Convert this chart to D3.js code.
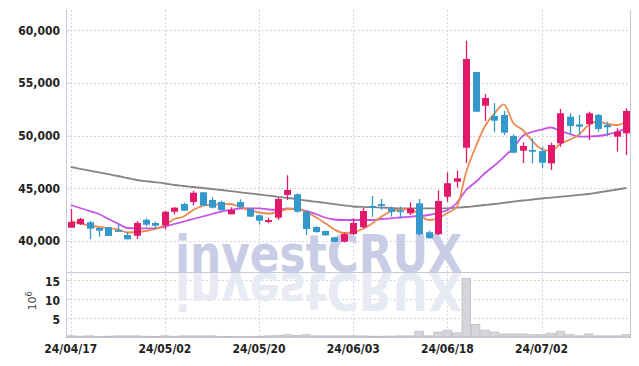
<!DOCTYPE html>
<html><head><meta charset="utf-8">
<script src="https://cdn.jsdelivr.net/npm/d3@7"></script>
<style>body{margin:0;background:#fff}svg{display:block}</style>
</head><body><svg id="c" width="639" height="366"></svg>
<script>
const dates = ["2024-04-17","2024-04-18","2024-04-19","2024-04-22","2024-04-23","2024-04-24","2024-04-25","2024-04-26","2024-04-29","2024-04-30",
"2024-05-02","2024-05-03","2024-05-07","2024-05-08","2024-05-09","2024-05-10","2024-05-13","2024-05-14","2024-05-16","2024-05-17",
"2024-05-20","2024-05-21","2024-05-22","2024-05-23","2024-05-24","2024-05-27","2024-05-28","2024-05-29","2024-05-30","2024-05-31",
"2024-06-03","2024-06-04","2024-06-05","2024-06-07","2024-06-10","2024-06-11","2024-06-12","2024-06-13","2024-06-14","2024-06-17",
"2024-06-18","2024-06-19","2024-06-20","2024-06-21","2024-06-24","2024-06-25","2024-06-26","2024-06-27","2024-06-28","2024-07-01",
"2024-07-02","2024-07-03","2024-07-04","2024-07-05","2024-07-08","2024-07-09","2024-07-10","2024-07-11","2024-07-12","2024-07-15"];
const open  = [41260,41590,41780,41230,41300,41040,40570,40500,42020,41710, 41490,42780,43510,43700,44620,43890,43700,42530,43700,43040,
               42440,41800,42210,44370,44430,42780,41330,40950,40350,39930, 40660,41300,43320,43510,43100,42910,42630,43580,40830,40640,
               44200,45630,48850,56040,52840,51860,51960,49970,48570,48640, 48540,47370,49270,51800,51070,51100,51960,51010,49900,50220];
const high  = [43040,42210,41900,41230,41360,41590,40880,41900,42150,41830, 42850,43230,43640,44770,44650,44150,43830,43200,43960,43130,
               42500,42210,44080,46240,44530,42850,41400,40980,40380,40790, 42150,43150,44270,43990,43260,43260,43670,43990,40980,44810,
               46520,46670,59010,56040,53950,53070,52340,50120,49370,49750, 48950,49330,52530,52120,51960,52270,52050,51320,50700,52590];
const low   = [41260,41520,40190,40410,40470,40880,40160,40190,41400,41140, 41110,42530,42880,43390,43320,43100,42880,42530,43200,42280,
               41550,41680,41990,43890,42690,40570,40790,40510,39900,39860, 40570,41210,42310,42970,42310,42150,42470,40500,40220,40570,
               43730,45060,47400,52270,51390,50320,50060,48320,47400,47370, 46900,46740,48950,50060,50060,49590,50370,49970,48480,48160];
const close = [41800,42090,41170,40980,40470,40880,40160,41710,41550,41450, 42780,43160,42880,44580,43350,43160,42940,42940,43200,42310,
               41930,41990,43990,44840,42780,41140,40850,40540,39930,40660, 41710,42850,43160,43390,42780,42780,43100,40640,40260,43800,
               45480,45950,57270,52270,53570,51420,50280,48380,49020,48480, 47430,49110,52120,50910,50850,52120,50630,50790,50370,52340];
// volume in millions of shares
const volume = [0.3,0.2,0.3,0.15,0.2,0.3,0.3,0.3,0.2,0.15, 0.3,0.2,0.3,0.3,0.3,0.3,0.15,0.15,0.1,0.15,
                0.2,0.3,0.4,0.6,0.4,0.6,0.3,0.3,0.3,0.3, 0.3,0.3,0.2,0.2,0.25,0.3,0.3,1.5,0.3,1.3,
                1.8,1.1,15.4,3.3,1.8,1.3,0.8,0.8,0.8,0.6, 0.6,1.0,1.5,0.6,0.3,0.8,0.3,0.3,0.3,0.6];
const ma5  = [41898,41661,41471,41329,41234,41110,40807,40854,40949,41139, 41518,42088,42325,42942,43322,43464,43483,43511,43227,42942,
              42705,42610,42752,43037,43084,42752,42278,41708,41091,40759, 40854,41139,41661,42325,42800,42989,43037,42515,41993,42135,
              42657,43227,46548,48921,50914,52100,52963,51198,50534,49509, 48731,48541,49234,49604,50107,51008,51341,51103,51008,51293];
const ma20 = [43416,43132,42847,42562,42088,41661,41234,41205,41205,41205, 41376,41613,41851,42088,42325,42562,42800,42942,43084,43103,
              43103,42989,42942,43084,42989,42847,42562,42230,42040,41993, 41993,41993,41993,42088,42154,42230,42297,42373,42467,42657,
              42942,43606,44840,45599,46453,47165,47972,48826,49965,50344, 50581,50771,50439,50154,49898,49917,49965,50107,50344,50695];
const ma60 = [47023,46852,46681,46510,46339,46169,45979,45789,45675,45571, 45457,45314,45220,45125,45030,44935,44840,44735,44622,44517,
              44413,44308,44195,44090,43986,43843,43730,43616,43502,43388, 43274,43236,43208,43170,43141,43103,43103,43103,43103,43103,
              43103,43160,43227,43322,43416,43511,43625,43730,43843,43938, 44033,44119,44204,44289,44375,44460,44603,44745,44887,45030];
const priceTicks = [40000,45000,50000,55000,60000];
const volTicks = [5,10,15];
const dateTicks = ["2024-04-17","2024-05-02","2024-05-20","2024-06-03","2024-06-18","2024-07-02"];

const svg = d3.select("#c");
const L = 66, R = 631, T = 10, PB = 272, VB = 337;
const x = d3.scaleBand().domain(dates).range([L, R]);
const cx = d => x(d) + x.bandwidth() / 2;
const y = d3.scaleLinear().domain([37058, 61922]).range([PB, T]);
const yv = d3.scaleLinear().domain([0, 17.1]).range([VB, PB]);
const gridC = "#c4c4da", axisC = "#c8c8d8";
const font = "'DejaVu Sans Condensed','DejaVu Sans',sans-serif";

// defs
const defs = svg.append("defs");
defs.append("clipPath").attr("id","volclip").append("rect").attr("x",L).attr("y",PB+1).attr("width",R-L).attr("height",VB-PB-1);

// grid
const grid = svg.append("g").attr("stroke", gridC).attr("stroke-dasharray","1.5,2.5").attr("stroke-width",1);
grid.selectAll(".hp").data(priceTicks).join("line")
  .attr("x1",L).attr("x2",R).attr("y1",d=>Math.round(y(d))+0.5).attr("y2",d=>Math.round(y(d))+0.5);
grid.selectAll(".hv").data(volTicks).join("line").attr("class","hv")
  .attr("x1",L).attr("x2",R).attr("y1",d=>Math.round(yv(d))+0.5).attr("y2",d=>Math.round(yv(d))+0.5);
grid.selectAll(".vx").data(dateTicks).join("line").attr("class","vx")
  .attr("x1",d=>Math.round(cx(d))+0.5).attr("x2",d=>Math.round(cx(d))+0.5).attr("y1",T).attr("y2",VB);

// watermark + reflection
const wm = svg.append("g");
wm.append("text").attr("x",175).attr("y",PB).attr("textLength",287).attr("lengthAdjust","spacingAndGlyphs")
  .attr("font-family","'DejaVu Sans',sans-serif").attr("font-weight","bold").attr("font-size",52)
  .attr("fill","#c8cde5").text("investCRUX");
wm.append("g").attr("clip-path","url(#volclip)")
  .append("text").attr("transform",`translate(0,${2*PB+1}) scale(1,-1)`)
  .attr("x",175).attr("y",PB).attr("textLength",287).attr("lengthAdjust","spacingAndGlyphs")
  .attr("font-family","'DejaVu Sans',sans-serif").attr("font-weight","bold").attr("font-size",52)
  .attr("fill","#e8eaf3").text("investCRUX");

// frame
const fr = svg.append("g").attr("stroke",axisC).attr("stroke-width",1);
fr.append("line").attr("x1",L+0.5).attr("x2",L+0.5).attr("y1",T).attr("y2",VB);
fr.append("line").attr("x1",R-0.5).attr("x2",R-0.5).attr("y1",T).attr("y2",VB);
fr.append("line").attr("x1",L).attr("x2",R).attr("y1",PB+0.5).attr("y2",PB+0.5);
fr.append("line").attr("x1",L).attr("x2",R).attr("y1",VB+0.5).attr("y2",VB+0.5);

// y axis (price)
const ya = svg.append("g").attr("transform",`translate(${L},0)`)
  .call(d3.axisLeft(y).tickValues(priceTicks).tickSize(-3).tickPadding(6).tickFormat(d3.format(",")));
ya.select(".domain").remove();
ya.selectAll(".tick line").attr("stroke",axisC);
ya.selectAll(".tick text").attr("font-family",font).attr("font-weight","bold").attr("font-size",12).attr("fill","#222");

// y axis (volume)
const yva = svg.append("g").attr("transform",`translate(${L},0)`)
  .call(d3.axisLeft(yv).tickValues(volTicks).tickSize(-3).tickPadding(6));
yva.select(".domain").remove();
yva.selectAll(".tick line").attr("stroke",axisC);
yva.selectAll(".tick text").attr("font-family",font).attr("font-weight","bold").attr("font-size",12).attr("fill","#222")
  .attr("dy","0.48em");
const ul = svg.append("text").attr("transform","translate(36,301) rotate(-90)").attr("text-anchor","middle")
  .attr("font-family","'DejaVu Sans',sans-serif").attr("font-size",11).attr("fill","#444");
ul.append("tspan").text("10");
ul.append("tspan").attr("dy",-4).attr("font-size",8).text("6");

// x axis
const fmt = d3.timeFormat("%y/%m/%d"), prs = d3.timeParse("%Y-%m-%d");
const xa = svg.append("g").attr("transform",`translate(0,${VB})`)
  .call(d3.axisBottom(x).tickValues(dateTicks).tickSize(0).tickPadding(7).tickFormat(d=>fmt(prs(d))));
xa.select(".domain").remove();
xa.selectAll(".tick text").attr("font-family",font).attr("font-weight","bold").attr("font-size",12).attr("fill","#222");

// volume bars
const bw = x.bandwidth();
svg.append("g").selectAll("rect").data(dates).join("rect")
  .attr("x",d=>x(d)+0.5).attr("width",bw-1)
  .attr("y",(d,i)=>yv(volume[i])).attr("height",(d,i)=>VB-yv(volume[i]))
  .attr("fill","#d6d6da").attr("stroke","#bcbcc4").attr("stroke-width",0.8);

// moving averages
const mkLine = arr => d3.line().x((d,i)=>cx(dates[i])).y(d=>y(d)).curve(d3.curveMonotoneX)(arr);
svg.append("path").attr("d",mkLine(ma60)).attr("fill","none").attr("stroke","#858585").attr("stroke-width",1.8);
svg.append("path").attr("d",mkLine(ma20)).attr("fill","none").attr("stroke","#c653e8").attr("stroke-width",1.8);
svg.append("path").attr("d",mkLine(ma5)).attr("fill","none").attr("stroke","#ee8a4e").attr("stroke-width",1.8);

// candles
const up = "#e2196b", dn = "#3399cc";
const cg = svg.append("g");
const col = i => close[i] >= open[i] ? up : dn;
cg.selectAll("line").data(dates).join("line")
  .attr("x1",d=>Math.round(cx(d))+0.5).attr("x2",d=>Math.round(cx(d))+0.5)
  .attr("y1",(d,i)=>y(high[i])).attr("y2",(d,i)=>y(low[i]))
  .attr("stroke",(d,i)=>col(i)).attr("stroke-width",1.3);
cg.selectAll("rect").data(dates).join("rect")
  .attr("x",d=>Math.round(cx(d))-3).attr("width",7)
  .attr("y",(d,i)=>y(Math.max(open[i],close[i])))
  .attr("height",(d,i)=>Math.max(1.8, Math.abs(y(open[i])-y(close[i]))))
  .attr("fill",(d,i)=>col(i));
</script></body></html>
